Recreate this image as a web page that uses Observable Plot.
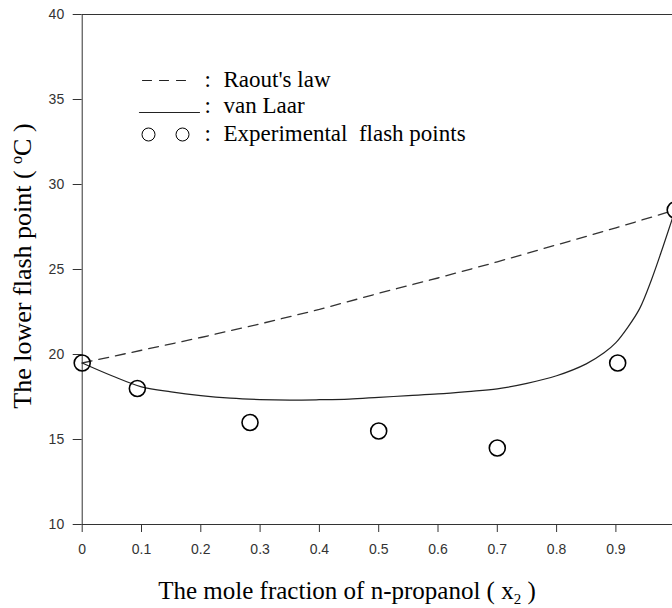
<!DOCTYPE html>
<html><head><meta charset="utf-8">
<script src="https://cdn.jsdelivr.net/npm/d3@7"></script>
<script src="https://cdn.jsdelivr.net/npm/@observablehq/plot@0.6"></script>
<style>
body{margin:0;background:#fff}
.legend-text text{font-family:'Liberation Serif','Times New Roman',serif !important;}
.tick-text text{font-family:'Liberation Sans',Arial,sans-serif !important;}
</style>
</head><body><div id="chart"></div>
<script>
// ---- data ----
const expX = [0, 0.093, 0.283, 0.5, 0.7, 0.903, 1.0];
const expY = [19.5, 18.0, 16.0, 15.5, 14.5, 19.5, 28.5];

const raoultX = [0, 0.1, 0.2, 0.3, 0.4, 0.5, 0.6, 0.7, 0.8, 0.9, 1.0];
const raoultY = [19.5, 20.25, 21.0, 21.8, 22.65, 23.6, 24.5, 25.45, 26.45, 27.45, 28.5];

const vanLaarX = [0, 0.05, 0.1, 0.15, 0.2, 0.25, 0.3, 0.35, 0.4, 0.45, 0.5, 0.55, 0.6, 0.65, 0.7, 0.75, 0.8, 0.85, 0.88, 0.9, 0.92, 0.94, 0.96, 0.98, 1.0];
const vanLaarY = [19.5, 18.75, 18.1, 17.8, 17.58, 17.43, 17.35, 17.32, 17.34, 17.38, 17.48, 17.58, 17.68, 17.82, 17.98, 18.3, 18.75, 19.45, 20.1, 20.7, 21.6, 22.7, 24.4, 26.4, 28.5];

const xTicks = [0, 0.1, 0.2, 0.3, 0.4, 0.5, 0.6, 0.7, 0.8, 0.9];
const xTickLabels = ["0", "0.1", "0.2", "0.3", "0.4", "0.5", "0.6", "0.7", "0.8", "0.9"];
const yTicks = [10, 15, 20, 25, 30, 35, 40];
const yTickLabels = ["10", "15", "20", "25", "30", "35", "40"];

const legendLabels = ["Raout's law", "van Laar", "Experimental\u00a0 flash points"];
const xTitle = ["The mole fraction of n-propanol ( x", "2", " )"];
const yTitle = ["The lower flash point ( ", "o", "C )"];

// ---- layout ----
const W = 672, H = 608;
const xRange = [81.7, 674.7], yRange = [524, 14];
const X = d3.scaleLinear([0, 1], xRange);
const Y = d3.scaleLinear([10, 40], yRange);
const px = (x) => X.invert(x), py = (y) => Y.invert(y);

const exp = expX.map((x, i) => ({x, y: expY[i]}));
const raoult = raoultX.map((x, i) => ({x, y: raoultY[i]}));
const vanLaar = vanLaarX.map((x, i) => ({x, y: vanLaarY[i]}));

// legend sample geometry (pixel positions converted to data units)
const legDash = [{x: px(142), y: py(80)}, {x: px(193), y: py(80)}];
const legSolid = [{x: px(139), y: py(112)}, {x: px(199), y: py(112)}];
const legDots = [{x: px(148), y: py(134)}, {x: px(182), y: py(134)}];
const legText = legendLabels.map((t, i) => ({t, x: px(223), y: py([79, 105, 133][i])}));
const legColon = legText.map(d => ({x: px(204), y: d.y}));

const serif = "Liberation Serif";
const sans = "Liberation Sans";

const plot = Plot.plot({
  width: W, height: H,
  marginLeft: xRange[0], marginRight: W - xRange[1], marginTop: yRange[1], marginBottom: H - yRange[0],
  x: {domain: [0, 1], range: xRange},
  y: {domain: [10, 40], range: yRange},
  style: {background: "#fff", color: "#222"},
  marks: [
    Plot.frame({stroke: "#333", strokeWidth: 1}),
    Plot.axisX({ticks: xTicks, tickFormat: (d) => xTickLabels[xTicks.indexOf(d)], tickSize: 8, tickPadding: 12,
      fontSize: 14, fontFamily: sans, label: null, stroke: "#333", fill: "#333", className: "tick-text"}),
    Plot.axisY({ticks: yTicks, tickFormat: (d) => yTickLabels[yTicks.indexOf(d)], tickSize: 9, tickPadding: 9,
      fontSize: 14, fontFamily: sans, label: null, stroke: "#333", fill: "#333", className: "tick-text"}),
    Plot.line(raoult, {x: "x", y: "y", stroke: "#333", strokeWidth: 1.3, strokeDasharray: "10,7"}),
    Plot.line(vanLaar, {x: "x", y: "y", curve: "catmull-rom", stroke: "#222", strokeWidth: 1.2}),
    Plot.dot(exp, {x: "x", y: "y", r: 8, stroke: "#000", strokeWidth: 1.6, fill: "none"}),
    // legend
    Plot.line(legDash, {x: "x", y: "y", stroke: "#222", strokeWidth: 1.2, strokeDasharray: "9,8"}),
    Plot.line(legSolid, {x: "x", y: "y", stroke: "#222", strokeWidth: 1.2}),
    Plot.dot(legDots, {x: "x", y: "y", r: 6.5, stroke: "#000", strokeWidth: 1, fill: "none"}),
    Plot.text(legColon, {x: "x", y: "y", text: () => ":", fontSize: 23, fontFamily: serif, fill: "#000", textAnchor: "start", className: "legend-text"}),
    Plot.text(legText, {x: "x", y: "y", text: "t", fontSize: 23, fontFamily: serif, fill: "#000", textAnchor: "start", className: "legend-text"})
  ]
});
document.getElementById("chart").append(plot);

// axis titles with sub/superscripts
const svg = d3.select(plot);
svg.selectAll(".legend-text text").style("font-family", "'Liberation Serif', 'Times New Roman', serif");
const xt = svg.append("text").attr("x", 347).attr("y", 599).attr("text-anchor", "middle")
  .style("font-family", "'Liberation Serif', 'Times New Roman', serif").attr("font-size", 25).attr("fill", "#000");
xt.append("tspan").text(xTitle[0]);
xt.append("tspan").attr("font-size", 15).attr("dy", 5).text(xTitle[1]);
xt.append("tspan").attr("dy", -5).text(xTitle[2]);

const yt = svg.append("text").attr("transform", "translate(31,266) rotate(-90)").attr("text-anchor", "middle")
  .style("font-family", "'Liberation Serif', 'Times New Roman', serif").attr("font-size", 26).attr("fill", "#000");
yt.append("tspan").text(yTitle[0]);
yt.append("tspan").attr("font-size", 16).attr("dy", -9).text(yTitle[1]);
yt.append("tspan").attr("dy", 9).text(yTitle[2]);
</script>
</body></html>
